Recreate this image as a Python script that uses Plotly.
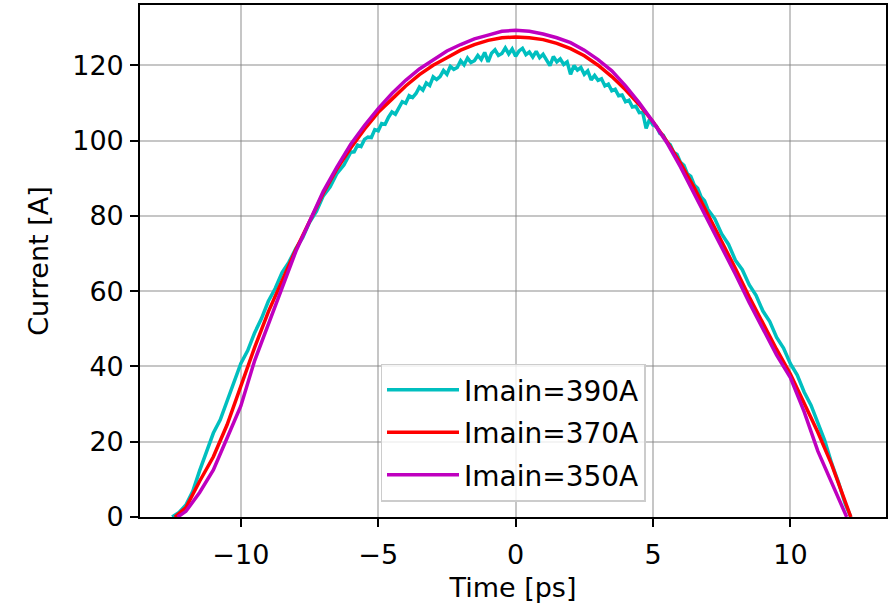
import plotly.graph_objects as go

# ---- data ----
t_390 = [-12.5, -12.25, -12.0, -11.75, -11.5, -11.25, -11.0, -10.75, -10.5, -10.25,
         -10.0, -9.75, -9.5, -9.25, -9.0, -8.75, -8.5, -8.25, -8.0, -7.75,
         -7.5, -7.25, -7.0, -6.75, -6.5, -6.25,
         -6.0, -5.875, -5.75, -5.625, -5.5, -5.375, -5.25, -5.125, -5.0, -4.875,
         -4.75, -4.625, -4.5, -4.375, -4.25, -4.125, -4.0, -3.875, -3.75, -3.625,
         -3.5, -3.375, -3.25, -3.125, -3.0, -2.875, -2.75, -2.625, -2.5, -2.375,
         -2.25, -2.125, -2.0, -1.875, -1.75, -1.625, -1.5, -1.375, -1.25, -1.125,
         -1.0, -0.875, -0.75, -0.625, -0.5, -0.375, -0.25, -0.125, 0.0, 0.125,
         0.25, 0.375, 0.5, 0.625, 0.75, 0.875, 1.0, 1.125, 1.25, 1.375,
         1.5, 1.625, 1.75, 1.875, 2.0, 2.125, 2.25, 2.375, 2.5, 2.625,
         2.75, 2.875, 3.0, 3.125, 3.25, 3.375, 3.5, 3.625, 3.75, 3.875,
         4.0, 4.125, 4.25, 4.375, 4.5, 4.625, 4.75, 4.875, 5.0, 5.125,
         5.25, 5.375, 5.5, 5.625, 5.75, 5.875, 6.0, 6.125, 6.25, 6.375,
         6.5, 6.625, 6.75, 6.875, 7.0,
         7.25, 7.5, 7.75, 8.0, 8.25, 8.5, 8.75, 9.0, 9.25, 9.5,
         9.75, 10.0, 10.25, 10.5, 10.75, 11.0, 11.25, 11.5, 11.75, 12.0, 12.2]
i_390 = [0, 1.2, 3.2, 6.8, 12.3, 17.2, 22.3, 25.8, 30.8, 35.2,
         40.8, 44.2, 48.9, 52.7, 57.3, 60.7, 64.9, 67.7, 71.3, 74.2,
         78.3, 81.2, 85.3, 87.7, 91.3, 93.5,
         96.9, 97.0, 98.8, 98.4, 100.3, 100.9, 100.8, 102.9, 102.6, 104.5,
         104.3, 106.2, 107.6, 107.0, 108.6, 110.3, 109.9, 111.9, 111.4, 112.5,
         114.2, 113.4, 115.3, 114.6, 116.9, 116.2, 117.0, 118.6, 117.6, 119.7,
         118.9, 119.4, 121.2, 120.1, 121.9, 120.7, 121.2, 122.6, 121.5, 123.4,
         120.9, 123.2, 124.1, 122.6, 123.1, 124.6, 123.0, 124.3, 122.4, 123.8,
         124.5, 122.8, 123.5, 122.2, 123.7, 122.0, 122.9, 121.6, 119.9, 122.3,
         120.9, 121.7, 120.2, 120.9, 117.6, 119.9, 118.7, 119.4, 117.6, 118.5,
         116.1, 117.3, 116.0, 116.4, 114.5, 115.0, 113.2, 113.6, 111.9, 112.1,
         110.3, 110.7, 108.9, 109.1, 107.4, 107.5, 103.2, 105.6, 104.1, 103.8,
         101.9, 101.4, 99.6, 98.9, 96.9, 96.3, 94.2, 93.4, 91.2, 90.5,
         88.2, 87.3, 85.0, 84.0, 81.7,
         79.2, 75.2, 72.4, 68.2, 65.7, 61.7, 58.9, 54.7, 51.9, 47.7,
         44.9, 40.7, 37.7, 33.2, 29.7, 24.7, 20.3, 14.3, 9.2, 3.4, 0]

t_370 = [-12.4, -12.0, -11.5, -11.0, -10.5, -10.0, -9.5, -9.0, -8.5, -8.0,
         -7.5, -7.0, -6.5, -6.0, -5.5, -5.0, -4.5, -4.0, -3.5, -3.0,
         -2.5, -2.0, -1.5, -1.0, -0.5, 0.0, 0.5, 1.0, 1.5, 2.0,
         2.5, 3.0, 3.5, 4.0, 4.5, 5.0, 5.5, 6.0, 6.5, 7.0,
         7.5, 8.0, 8.5, 9.0, 9.5, 10.0, 10.5, 11.0, 11.5, 12.0, 12.2]
i_370 = [0, 2.5, 9.5, 16.0, 24.5, 35.0, 45.0, 54.5, 63.0, 71.0,
         78.5, 86.0, 92.5, 98.0, 103.0, 107.5, 111.0, 114.5, 117.5, 120.0,
         122.0, 124.0, 125.5, 126.6, 127.3, 127.5, 127.3, 126.8, 125.8, 124.4,
         122.5, 120.0, 117.0, 113.5, 109.5, 105.0, 99.8, 94.0, 87.5, 80.5,
         73.5, 66.0, 58.5, 51.5, 44.5, 38.0, 30.5, 22.5, 14.0, 4.0, 0]

t_350 = [-12.3, -12.0, -11.5, -11.0, -10.5, -10.0, -9.5, -9.0, -8.5, -8.0,
         -7.5, -7.0, -6.5, -6.0, -5.5, -5.0, -4.5, -4.0, -3.5, -3.0,
         -2.5, -2.0, -1.5, -1.0, -0.5, 0.0, 0.5, 1.0, 1.5, 2.0,
         2.5, 3.0, 3.5, 4.0, 4.5, 5.0, 5.5, 6.0, 6.5, 7.0,
         7.5, 8.0, 8.5, 9.0, 9.5, 10.0, 10.5, 11.0, 11.5, 12.0, 12.05]
i_350 = [0, 1.5, 6.5, 12.5, 21.0, 29.5, 41.5, 51.0, 61.0, 70.5,
         78.5, 86.5, 93.0, 99.0, 104.0, 108.5, 112.5, 116.0, 119.0, 121.5,
         123.8, 125.5, 127.0, 128.0, 129.0, 129.3, 129.0, 128.3, 127.3, 126.0,
         124.0, 121.5, 118.5, 114.5, 110.0, 105.0, 99.5, 93.0, 86.0, 79.0,
         72.0, 64.5, 57.0, 50.0, 43.0, 37.0, 28.0, 17.5, 9.0, 1.0, 0]

series_names = ["Imain=390A", "Imain=370A", "Imain=350A"]
series_colors = ["#00bfbf", "#ff0000", "#bf00bf"]

x_tickvals = [-10, -5, 0, 5, 10]
x_ticktext = ["\u221210", "\u22125", "0", "5", "10"]
y_tickvals = [0, 20, 40, 60, 80, 100, 120]

FONT = "DejaVu Sans"
FS = 27

fig = go.Figure()
for name, xs, ys, col in zip(series_names, [t_390, t_370, t_350],
                             [i_390, i_370, i_350], series_colors):
    fig.add_trace(go.Scatter(x=xs, y=ys, mode="lines", name=name,
                             legendgroup=name,
                             line=dict(color=col, width=3.5)))

axis_common = dict(
    showline=True, linecolor="black", linewidth=1.6, mirror=True,
    showgrid=True, gridcolor="rgba(128,128,128,0.45)", gridwidth=1.5,
    ticks="outside", ticklen=8, tickwidth=1.5, tickcolor="black",
    zeroline=False, tickfont=dict(family=FONT, size=FS, color="black"),
)

fig.update_layout(
    width=890, height=605,
    margin=dict(l=140, r=2, t=5, b=88),
    paper_bgcolor="white", plot_bgcolor="white",
    font=dict(family=FONT, size=FS, color="black"),
    xaxis=dict(range=[-13.67, 13.48], tickvals=x_tickvals, ticktext=x_ticktext,
               ticklabelstandoff=5,
               title=dict(text="Time [ps]", font=dict(family=FONT, size=FS), standoff=9),
               **axis_common),
    yaxis=dict(range=[0, 136], tickvals=y_tickvals, ticklabelstandoff=1,
               title=dict(text="Current [A]", font=dict(family=FONT, size=FS), standoff=16),
               **axis_common),
    legend=dict(x=0.5, xanchor="center", y=0.03, yanchor="bottom",
                bgcolor="rgba(255,255,255,0.8)", bordercolor="#cccccc", borderwidth=1.5,
                font=dict(family=FONT, size=28), tracegroupgap=3,
                itemwidth=72),
    showlegend=True,
)

fig.write_html("out.html")
